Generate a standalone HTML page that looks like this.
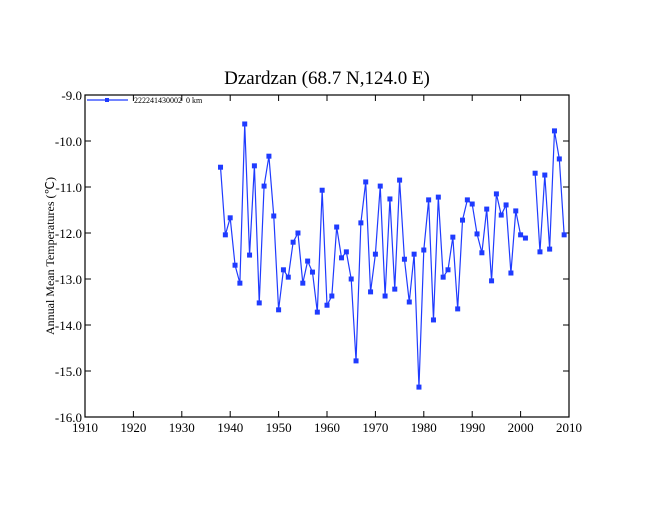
<!DOCTYPE html>
<html><head><meta charset="utf-8">
<style>
body{margin:0;background:#fff;width:650px;height:502px;overflow:hidden;font-family:"Liberation Serif",serif;}
</style></head>
<body>
<svg id="chart" width="650" height="502" xmlns="http://www.w3.org/2000/svg">
<text x="327" y="84" font-size="19" text-anchor="middle" font-family="Liberation Serif, serif">Dzardzan (68.7 N,124.0 E)</text>
<g id="axes"></g>
<g id="series"></g>
<g>
<line x1="87" y1="100" x2="128" y2="100" stroke="#1f3bff" stroke-width="1.2"/>
<rect x="105" y="98" width="4" height="4" fill="#1f3bff"/>
<text x="134" y="103" font-size="8" font-family="Liberation Serif, serif">222241430002&#160; 0 km</text>
</g>
<text transform="translate(54,256) rotate(-90)" font-size="12" text-anchor="middle" font-family="Liberation Serif, serif">Annual Mean Temperatures (℃)</text>
</svg>
<script>
const years=[1938,1939,1940,1941,1942,1943,1944,1945,1946,1947,1948,1949,1950,1951,1952,1953,1954,1955,1956,1957,1958,1959,1960,1961,1962,1963,1964,1965,1966,1967,1968,1969,1970,1971,1972,1973,1974,1975,1976,1977,1978,1979,1980,1981,1982,1983,1984,1985,1986,1987,1988,1989,1990,1991,1992,1993,1994,1995,1996,1997,1998,1999,2000,2001,2002,2003,2004,2005,2006,2007,2008,2009];
const temps=[-10.57,-12.04,-11.67,-12.70,-13.09,-9.63,-12.48,-10.54,-13.52,-10.98,-10.33,-11.63,-13.67,-12.80,-12.96,-12.20,-12.00,-13.09,-12.61,-12.85,-13.72,-11.07,-13.57,-13.37,-11.87,-12.54,-12.41,-13.00,-14.78,-11.78,-10.89,-13.28,-12.46,-10.98,-13.37,-11.26,-13.22,-10.85,-12.57,-13.50,-12.46,-15.35,-12.37,-11.28,-13.89,-11.22,-12.96,-12.80,-12.09,-13.65,-11.72,-11.28,-11.37,-12.02,-12.43,-11.48,-13.04,-11.15,-11.61,-11.39,-12.87,-11.52,-12.04,-12.11,null,-10.70,-12.41,-10.74,-12.35,-9.78,-10.39,-12.04];
const xTicks=[1910,1920,1930,1940,1950,1960,1970,1980,1990,2000,2010];
const yTicks=[-9,-10,-11,-12,-13,-14,-15,-16];
const X0=85,X1=569,Y0=95,Y1=417;
function xs(v){return X0+(v-1910)/(2010-1910)*(X1-X0);}
function ys(v){return Y0+(-9-v)/(7)*(Y1-Y0);}
const NS="http://www.w3.org/2000/svg";
function mk(t,a,p){const e=document.createElementNS(NS,t);for(const k in a)e.setAttribute(k,a[k]);p.appendChild(e);return e;}
const ax=document.getElementById('axes');
const frame=mk('rect',{x:X0,y:Y0,width:X1-X0,height:Y1-Y0,fill:'none',stroke:'#000','stroke-width':1.2},ax);


xTicks.forEach(t=>{
  const x=xs(t);
  mk('line',{x1:x,y1:Y1,x2:x,y2:Y1-6,stroke:'#000'},ax);
  mk('line',{x1:x,y1:Y0,x2:x,y2:Y0+6,stroke:'#000'},ax);
  const tx=mk('text',{x:x,y:Y1+15,'font-size':13,'text-anchor':'middle'},ax);
  tx.textContent=t;
  
  
});
yTicks.forEach(t=>{
  const y=ys(t);
  mk('line',{x1:X0,y1:y,x2:X0+6,y2:y,stroke:'#000'},ax);
  mk('line',{x1:X1,y1:y,x2:X1-6,y2:y,stroke:'#000'},ax);
  const tx=mk('text',{x:X0-3,y:y+5,'font-size':13,'text-anchor':'end'},ax);
  tx.textContent=t.toFixed(1);
  
  
});
const sg=document.getElementById('series');
let d='',pen=false;
years.forEach((yr,i)=>{
  const v=temps[i];
  if(v===null){pen=false;return;}
  d+=(pen?'L':'M')+xs(yr)+' '+ys(v)+' ';pen=true;
});
const line=mk('path',{d:d,fill:'none',stroke:'#1f3bff','stroke-width':1.2},sg);


years.forEach((yr,i)=>{
  const v=temps[i];
  if(v===null)return;
  const r=mk('rect',{x:xs(yr)-2.5,y:ys(v)-2.5,width:5,height:5,fill:'#1f3bff'},sg);
  
  
});
</script>
</body></html>
